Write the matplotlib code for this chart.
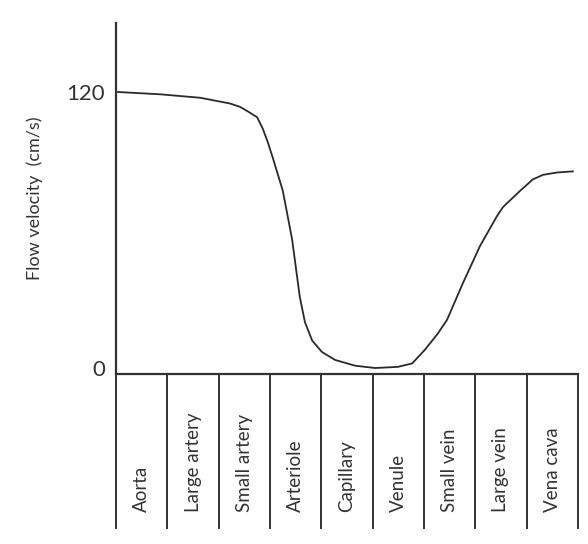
import matplotlib.pyplot as plt

vessels = ["Aorta", "Large artery", "Small artery", "Arteriole", "Capillary",
           "Venule", "Small vein", "Large vein", "Vena cava"]

# position along the vessel bed (in column units) and flow velocity (cm/s)
pos = [0.04, 0.86, 1.64, 2.22, 2.42, 2.61, 2.75, 2.86, 2.96, 3.06, 3.25, 3.43,
       3.58, 3.68, 3.82, 4.01, 4.27, 4.66, 5.05, 5.49, 5.77, 6.02, 6.27, 6.45,
       6.76, 7.09, 7.42, 7.54, 7.87, 8.12, 8.32, 8.59, 8.90]
velocity = [120, 119, 117.5, 115, 113.5, 111, 109, 104, 98, 91, 77, 56,
            31, 20, 12, 7, 3.5, 1, 0, 0.5, 2, 8, 15, 21,
            37, 53, 66, 70, 77, 82, 84, 85, 85.5]

yticks = [0, 120]

plt.rcParams['font.family'] = ['Lato', 'DejaVu Sans']

fig = plt.figure(figsize=(5.88, 5.44), dpi=100)
ax = fig.add_axes([116 / 588, 1 - 374 / 544, 462 / 588, 351 / 544])

ax.plot(pos, velocity, color="#2a2a2a", lw=1.3, solid_joinstyle="round")

ax.set_xlim(0, len(vessels))
ax.set_ylim(-2.6, 150)
ax.set_yticks(yticks)
ax.set_yticklabels([str(t) for t in yticks], fontsize=16, color="#333333")
ax.tick_params(axis="y", length=0, pad=8)
ax.set_xticks([])

for s in ["top", "right"]:
    ax.spines[s].set_visible(False)
for s in ["left", "bottom"]:
    ax.spines[s].set_color("#333333")
    ax.spines[s].set_linewidth(1.6)

ax.set_ylabel("Flow velocity  (cm/s)", fontsize=13, color="#333333")
ax.yaxis.set_label_coords(-0.158, 0.5)

# table of vessel names below the axis
tr = ax.get_xaxis_transform()
depth = (528 - 374) / 351
for i in range(len(vessels) + 1):
    ax.plot([i, i], [0, -depth], transform=tr, clip_on=False,
            color="#333333", lw=1.4)
for i, name in enumerate(vessels):
    ax.text(i + 0.5, -(512 - 374) / 351, name, transform=tr, rotation=90,
            ha="center", va="bottom", fontsize=13.5, color="#333333")

fig.savefig("out.png", dpi=100, facecolor="white")
